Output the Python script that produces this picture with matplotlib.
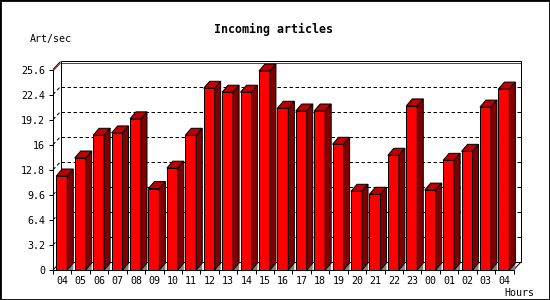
import matplotlib
matplotlib.use("Agg")
import matplotlib.pyplot as plt
from matplotlib.patches import Polygon, Rectangle
from matplotlib import transforms

hours = ["04", "05", "06", "07", "08", "09", "10", "11", "12", "13", "14", "15",
         "16", "17", "18", "19", "20", "21", "22", "23", "00", "01", "02", "03", "04"]
rates = [12.0, 14.3, 17.2, 17.5, 19.3, 10.4, 13.0, 17.2, 23.2, 22.7, 22.7, 25.4,
         20.65, 20.3, 20.3, 16.05, 10.05, 9.67, 14.65, 20.95, 10.2, 14.0, 15.15, 20.8, 23.1]
y_ticks = [0, 3.2, 6.4, 9.6, 12.8, 16, 19.2, 22.4, 25.6]
y_labels = ["0", "3.2", "6.4", "9.6", "12.8", "16", "19.2", "22.4", "25.6"]

mono = "DejaVu Sans Mono"
W, H = 550, 300
fig = plt.figure(figsize=(W / 100, H / 100), dpi=100)
fig.patch.set_facecolor("white")

# front face of the plot, in pixels
ax_left, ax_bottom, ax_w, ax_h = 53, 30, 460.5, 200.5
ax = fig.add_axes([ax_left / W, ax_bottom / H, ax_w / W, ax_h / H])
n = len(hours)
ymax = y_ticks[-1]
ax.set_xlim(0, n)
ax.set_ylim(0, ymax)
ax.axis("off")

# pixel -> data units for the 3d depth
px_x = n / ax_w
px_y = ymax / ax_h
fdx, fdy = 7.5 * px_x, 8 * px_y   # frame depth
bdx, bdy = 6 * px_x, 7 * px_y     # bar depth
bar_off, bar_w = 3.3 * px_x, 11 * px_x
lw = 0.72


def line(xs, ys, **kw):
    kw.setdefault("color", "black")
    kw.setdefault("lw", lw)
    ax.plot(xs, ys, clip_on=False, solid_capstyle="butt", dash_capstyle="butt", **kw)


# grid on left wall + back wall
for v in y_ticks[1:-1]:
    line([0, fdx], [v, v + fdy], ls=(0, (3.5, 2.5)), zorder=1)
    line([fdx, n + fdx], [v + fdy, v + fdy], ls=(0, (3.5, 2.5)), zorder=1)

# max line
top = max(rates)
line([0, fdx], [top, top + fdy], color="red", zorder=1.5)
line([fdx, n + fdx], [top + fdy, top + fdy], color="red", zorder=1.5)

# frame
line([fdx, n + fdx], [ymax + fdy, ymax + fdy], zorder=2)
line([fdx, fdx], [fdy, ymax + fdy], zorder=2)
line([n + fdx, n + fdx], [fdy, ymax + fdy], zorder=2)
line([0, fdx], [ymax, ymax + fdy], zorder=2)
line([0, fdx], [0, fdy], zorder=2)
line([n, n + fdx], [0, fdy], zorder=2)
line([fdx, n + fdx], [fdy, fdy], zorder=2)
line([0, 0], [0, ymax], zorder=2)

# ticks
for v in y_ticks:
    line([-4 * px_x, 0], [v, v], zorder=2)
    line([n + fdx - 3 * px_x, n + fdx], [v + fdy, v + fdy], zorder=2)
for i in range(n + 1):
    line([i, i], [0, -4 * px_y], zorder=2)

# bars
for i, v in enumerate(rates):
    x0 = i + bar_off
    x1 = x0 + bar_w
    ax.add_patch(Polygon([(x1, 0), (x1 + bdx, bdy), (x1 + bdx, 0)], closed=True,
                         fc="#808080", ec="none", zorder=3, clip_on=False))
    kw = dict(closed=True, ec="black", lw=lw, joinstyle="miter", zorder=3, clip_on=False)
    ax.add_patch(Polygon([(x0, 0), (x1, 0), (x1, v), (x0, v)], fc="#ff0000", **kw))
    ax.add_patch(Polygon([(x0, v), (x1, v), (x1 + bdx, v + bdy), (x0 + bdx, v + bdy)],
                         fc="#c00000", **kw))
    ax.add_patch(Polygon([(x1, 0), (x1 + bdx, bdy), (x1 + bdx, v + bdy), (x1, v)],
                         fc="#800000", **kw))

line([0, n], [0, 0], zorder=4)

# labels
ylab_tr = transforms.offset_copy(ax.transData, fig=fig, x=-8, y=0, units="dots")
for v, lab in zip(y_ticks, y_labels):
    ax.text(0, v, lab, transform=ylab_tr, ha="right", va="center_baseline",
            family=mono, fontsize=7.2)
xlab_tr = transforms.offset_copy(ax.transData, fig=fig, x=0, y=-10, units="dots")
for i, lab in enumerate(hours):
    ax.text(i + 0.5, 0, lab, transform=xlab_tr, ha="center", va="center_baseline",
            family=mono, fontsize=7.2)

fig.text(274 / W, 1 - 28 / H, "Incoming articles", ha="center", va="center_baseline",
         family=mono, fontsize=8.4, fontweight="bold")
fig.text(50.5 / W, 1 - 38 / H, "Art/sec", ha="center", va="center_baseline",
         family=mono, fontsize=7.2)
fig.text(519 / W, 1 - 292 / H, "Hours", ha="center", va="center_baseline",
         family=mono, fontsize=7.2)

fig.add_artist(Rectangle((0, 0), 1, 1, transform=fig.transFigure, fill=False,
                         ec="black", lw=2))

fig.savefig("out.png", dpi=100)
